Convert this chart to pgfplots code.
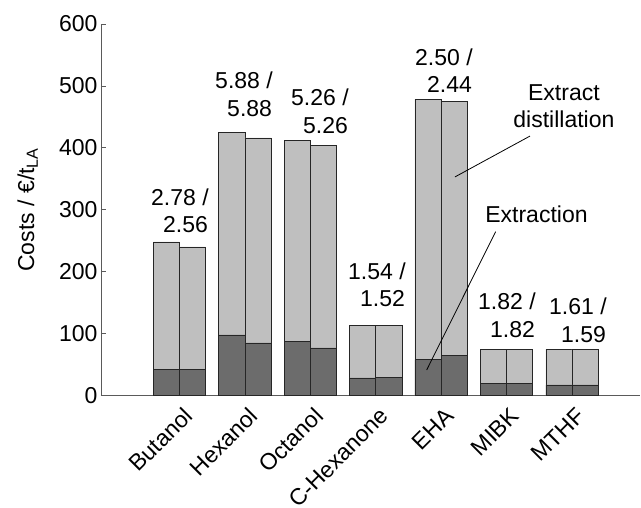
\documentclass[border=0pt]{standalone}
\usepackage{fontspec}
\setmainfont{Liberation Sans}
\usepackage{pgfplots}
\pgfplotsset{compat=1.18}
\definecolor{lightbar}{RGB}{191,191,191}
\definecolor{darkbar}{RGB}{108,108,108}
\definecolor{axcol}{RGB}{90,90,90}
\newcommand{\bigfont}{\fontsize{23}{27.5}\selectfont}
\begin{document}
\begin{tikzpicture}
\begin{axis}[
 scale only axis, width=539pt, height=371.5pt,
 xmin=-0.2, xmax=8.04, ymin=0, ymax=600,
 axis x line=bottom, axis y line=left,
 axis line style={-, axcol, line width=0.8pt},
 xtick={1,...,7},
 xticklabels={Butanol,Hexanol,Octanol,C-Hexanone,EHA,MIBK,MTHF},
 x tick style={draw=none},
 ytick={0,100,...,600},
 y tick style={axcol, line width=0.8pt},
 tick align=inside, major tick length=5pt,
 tick label style={font=\bigfont},
 /pgf/number format/assume math mode=true,
 xticklabel style={xshift=11pt, yshift=-9pt, rotate=45, anchor=east},
 ylabel={Costs / €/t\textsubscript{LA}},
 ylabel style={font=\bigfont, at={(axis description cs:-0.124,0.5)}, anchor=base},
 ybar, bar width=0.4, clip=false,
]
\coordinate (O) at (rel axis cs:0,0);
\addplot[fill=lightbar, draw=black!85, line width=0.6pt, bar shift=-0.2] coordinates {(1,248) (2,425) (3,412) (4,113) (5,478.5) (6,75) (7,75)};
\addplot[fill=lightbar, draw=black!85, line width=0.6pt, bar shift=0.2] coordinates {(1,240) (2,416) (3,404) (4,113) (5,475) (6,75) (7,75)};
\addplot[fill=darkbar, draw=black!85, line width=0.6pt, bar shift=-0.2] coordinates {(1,42) (2,98) (3,87) (4,28.5) (5,58) (6,19) (7,17)};
\addplot[fill=darkbar, draw=black!85, line width=0.6pt, bar shift=0.2] coordinates {(1,42) (2,85) (3,77) (4,29.5) (5,64.5) (6,19) (7,17)};
\tikzset{lab/.style={anchor=south west, align=left, inner sep=0pt, font=\bigfont}}
\node[lab] at (axis cs:0.564,262.5) {2.78 /\\\hspace*{12pt}2.56};
\node[lab] at (axis cs:1.543,450) {5.88 /\\\hspace*{12pt}5.88};
\node[lab] at (axis cs:2.704,422.5) {5.26 /\\\hspace*{12pt}5.26};
\node[lab] at (axis cs:3.576,143) {1.54 /\\\hspace*{12pt}1.52};
\node[lab] at (axis cs:4.600,489) {2.50 /\\\hspace*{12pt}2.44};
\node[lab] at (axis cs:5.563,93) {1.82 /\\\hspace*{12pt}1.82};
\node[lab] at (axis cs:6.648,85) {1.61 /\\\hspace*{12pt}1.59};
\node[anchor=south, align=center, inner sep=0pt, font=\bigfont] at (axis cs:6.877,432) {Extract\\distillation};
\node[anchor=south, inner sep=0pt, font=\bigfont] at (axis cs:6.457,278.7) {Extraction};
\draw[line width=0.8pt] (axis cs:6.358,419) -- (axis cs:5.211,353);
\draw[line width=0.8pt] (axis cs:5.833,264.6) -- (axis cs:4.779,41.2);
\end{axis}
\pgfresetboundingbox
\path[use as bounding box] ([shift={(-101pt,-112.5pt)}]O) rectangle ++(641pt,508pt);
\end{tikzpicture}
\end{document}
